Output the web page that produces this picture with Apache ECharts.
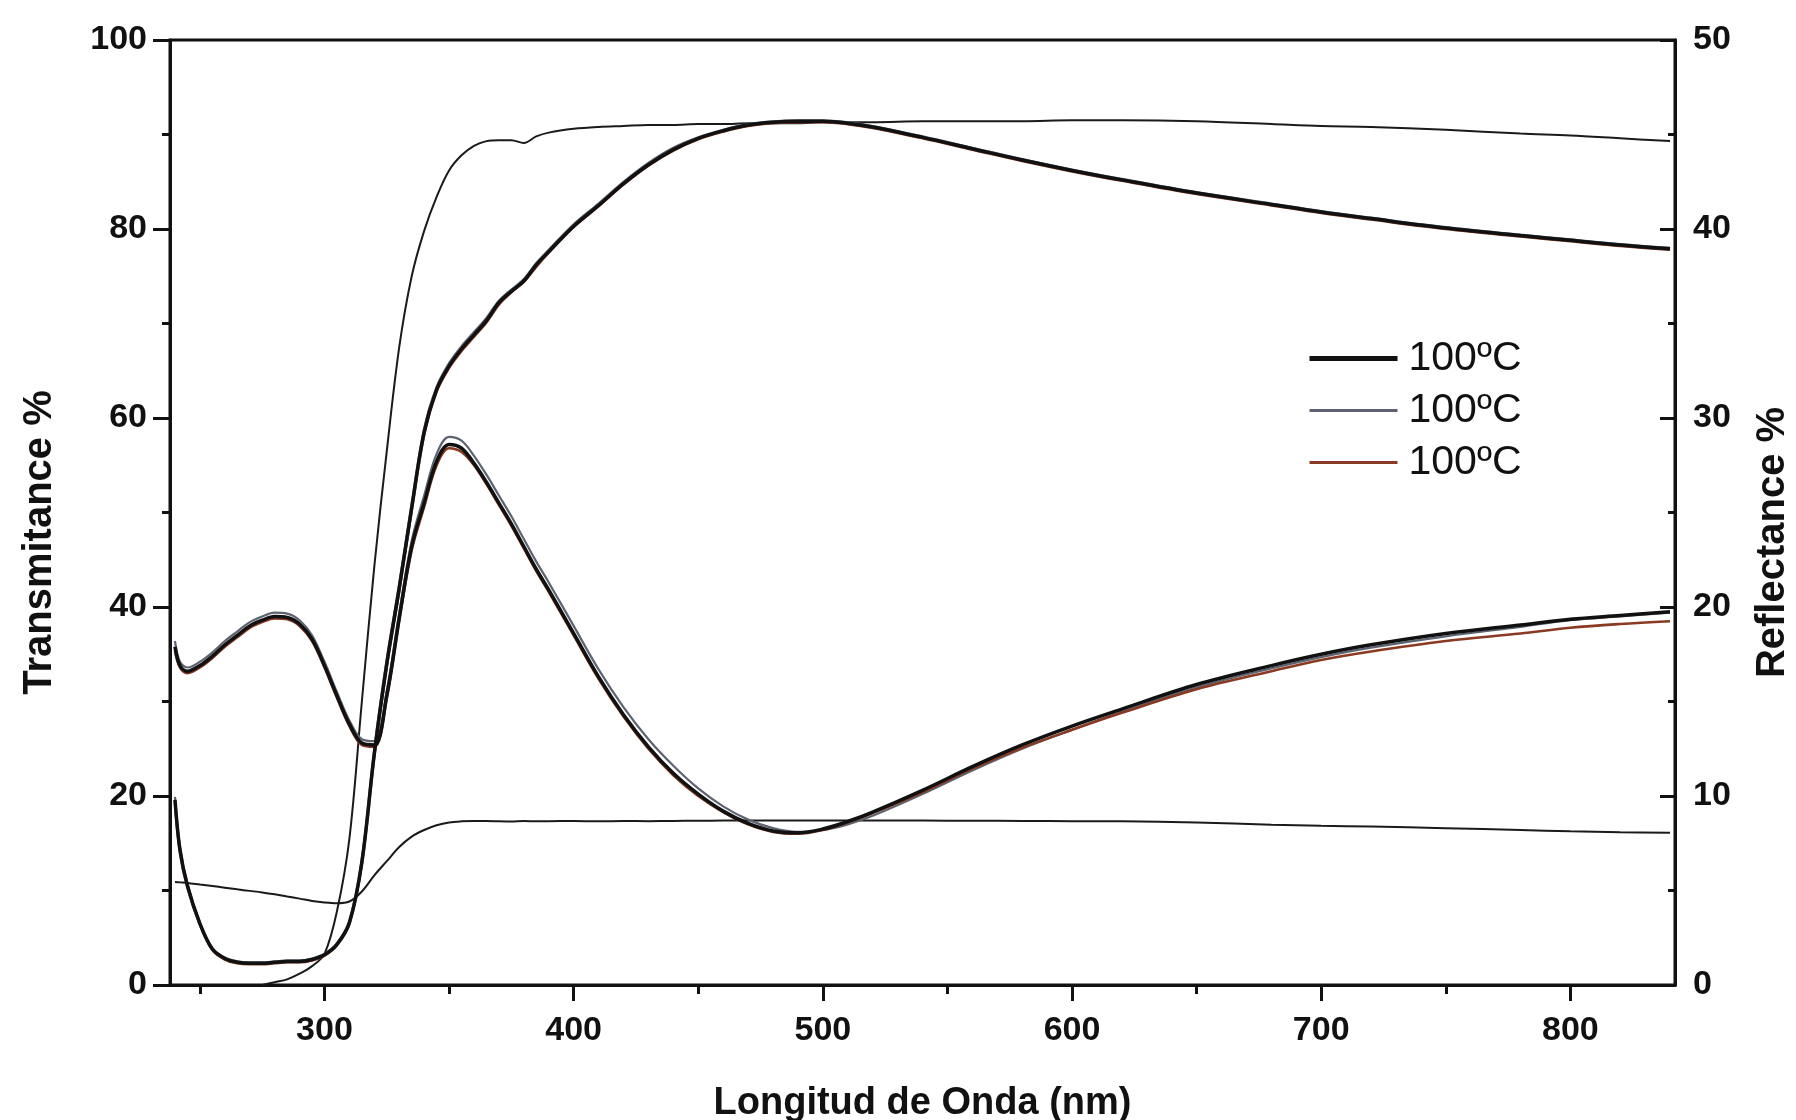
<!DOCTYPE html>
<html>
<head>
<meta charset="utf-8">
<title>Transmitance / Reflectance</title>
<script src="https://cdn.jsdelivr.net/npm/echarts@6/dist/echarts.min.js"></script>
<style>
  html, body { margin: 0; padding: 0; background: #fff; }
  #chart { width: 1796px; height: 1120px; }
</style>
</head>
<body>
<div id="chart"></div>
<script>
// longitud de onda (nm)
const lambda = [240, 242, 245, 250, 255, 260, 265, 270, 275, 280, 285, 290, 295, 300, 305, 310, 315, 320, 325, 330,
  335, 340, 345, 350, 355, 360, 365, 370, 375, 380, 385, 390, 400, 410, 420, 430, 440, 450, 460, 470,
  480, 490, 500, 510, 520, 540, 560, 580, 600, 620, 650, 680, 700, 720, 750, 780, 800, 820, 840];

// transmitancia de la pelicula (eje izq.)
const filmT_black = [19.6, 14.3, 10.5, 6.5, 3.8, 2.8, 2.4, 2.3, 2.3, 2.4, 2.5, 2.5, 2.7, 3.2, 4.3, 6.6, 13.0, 24.5, 34.0, 42.0,
  50.5, 58.5, 63.0, 65.5, 67.3, 68.8, 70.3, 72.2, 73.4, 74.5, 76.2, 77.6, 80.3, 82.5, 84.8, 86.8, 88.4, 89.6, 90.4, 91.0,
  91.3, 91.4, 91.4, 91.2, 90.8, 89.7, 88.5, 87.3, 86.2, 85.2, 83.8, 82.6, 81.8, 81.1, 80.1, 79.3, 78.8, 78.3, 77.9];
const filmT_gray = [19.9, 14.6, 10.7, 6.6, 3.9, 2.9, 2.5, 2.4, 2.4, 2.5, 2.6, 2.6, 2.8, 3.3, 4.4, 6.8, 13.4, 25.0, 34.5, 42.5,
  51.0, 58.9, 63.3, 65.8, 67.6, 69.1, 70.6, 72.4, 73.6, 74.7, 76.4, 77.8, 80.5, 82.7, 85.0, 87.0, 88.6, 89.7, 90.5, 91.1,
  91.4, 91.5, 91.5, 91.3, 90.9, 89.8, 88.6, 87.4, 86.3, 85.3, 83.9, 82.7, 81.9, 81.2, 80.2, 79.4, 78.9, 78.4, 78.0];
const filmT_brown = [19.3, 14.0, 10.3, 6.4, 3.7, 2.7, 2.3, 2.2, 2.2, 2.3, 2.4, 2.4, 2.6, 3.1, 4.2, 6.5, 12.8, 24.2, 33.7, 41.7,
  50.2, 58.2, 62.8, 65.3, 67.1, 68.6, 70.1, 72.0, 73.3, 74.4, 76.0, 77.5, 80.2, 82.4, 84.7, 86.7, 88.3, 89.5, 90.3, 90.9,
  91.2, 91.3, 91.3, 91.1, 90.7, 89.6, 88.4, 87.2, 86.1, 85.1, 83.7, 82.5, 81.7, 81.0, 80.0, 79.2, 78.7, 78.2, 77.8];

// transmitancia del sustrato (eje izq.)
const glassT = [null, null, null, null, null, null, null, null, 0.0, 0.3, 0.6, 1.2, 2.0, 3.3, 7.8, 15.5, 30.0, 44.3, 56.5, 67.5,
  75.0, 79.8, 83.4, 86.2, 87.8, 88.8, 89.3, 89.4, 89.4, 89.1, 89.8, 90.2, 90.6, 90.8, 90.9, 91.0, 91.0, 91.1, 91.1, 91.2,
  91.2, 91.2, 91.3, 91.3, 91.3, 91.4, 91.4, 91.4, 91.5, 91.5, 91.4, 91.1, 90.9, 90.8, 90.5, 90.1, 89.9, 89.6, 89.3];

// reflectancia de la pelicula (eje der.)
const filmR_black = [17.9, 16.9, 16.6, 16.9, 17.4, 18.0, 18.5, 19.0, 19.3, 19.5, 19.45, 19.1, 18.3, 16.9, 15.3, 13.8, 12.8, 12.7, 15.3, 19.4,
  23.2, 25.5, 27.7, 28.6, 28.4, 27.6, 26.6, 25.5, 24.4, 23.2, 22.0, 20.9, 18.6, 16.3, 14.3, 12.6, 11.2, 10.1, 9.2, 8.55,
  8.15, 8.05, 8.25, 8.65, 9.15, 10.3, 11.55, 12.7, 13.7, 14.6, 15.9, 16.9, 17.5, 18.0, 18.6, 19.05, 19.35, 19.55, 19.75];
const filmR_gray = [18.2, 17.1, 16.8, 17.1, 17.6, 18.2, 18.7, 19.2, 19.5, 19.7, 19.65, 19.3, 18.5, 17.1, 15.5, 14.0, 13.0, 12.9, 15.6, 19.7,
  23.5, 25.9, 28.1, 29.0, 28.8, 28.0, 27.0, 25.9, 24.8, 23.6, 22.4, 21.3, 19.0, 16.7, 14.7, 13.0, 11.6, 10.4, 9.45, 8.75,
  8.3, 8.1, 8.2, 8.5, 8.95, 10.1, 11.35, 12.5, 13.5, 14.45, 15.75, 16.75, 17.35, 17.85, 18.45, 18.95, 19.3, 19.5, 19.7];
const filmR_brown = [17.7, 16.8, 16.5, 16.8, 17.3, 17.9, 18.4, 18.9, 19.2, 19.4, 19.35, 19.0, 18.2, 16.8, 15.2, 13.7, 12.7, 12.6, 15.2, 19.3,
  23.0, 25.3, 27.5, 28.4, 28.2, 27.5, 26.5, 25.4, 24.3, 23.1, 21.9, 20.8, 18.5, 16.2, 14.2, 12.5, 11.1, 10.0, 9.15, 8.5,
  8.1, 8.0, 8.2, 8.6, 9.1, 10.2, 11.45, 12.55, 13.5, 14.4, 15.65, 16.6, 17.2, 17.65, 18.2, 18.6, 18.9, 19.1, 19.25];

// reflectancia del sustrato (eje der.)
const glassR = [5.45, 5.43, 5.4, 5.32, 5.24, 5.15, 5.06, 4.98, 4.9, 4.8, 4.68, 4.57, 4.45, 4.37, 4.33, 4.42, 4.95, 5.8, 6.55, 7.3,
  7.85, 8.2, 8.45, 8.6, 8.66, 8.68, 8.68, 8.66, 8.65, 8.68, 8.66, 8.67, 8.68, 8.66, 8.68, 8.67, 8.68, 8.69, 8.7, 8.7,
  8.71, 8.7, 8.71, 8.71, 8.7, 8.7, 8.69, 8.68, 8.67, 8.66, 8.6, 8.48, 8.42, 8.38, 8.3, 8.2, 8.13, 8.08, 8.05];

// ticks
const xLabels = [300, 400, 500, 600, 700, 800];
const xMinor = [250, 350, 450, 550, 650, 750];
const legendNames = ['100ºC', '100ºC ', '100ºC  '];

const FONT = '"Liberation Sans", Arial, Helvetica, sans-serif';
const INK = '#111111';

function pairs(ys) {
  return lambda.map((x, i) => [x, ys[i]]);
}

const chart = echarts.init(document.getElementById('chart'), null, { renderer: 'canvas' });

const tickLabel = { color: INK, fontFamily: FONT, fontWeight: 'bold', fontSize: 34 };
const axisTitle = { color: INK, fontFamily: FONT, fontWeight: 'bold', fontSize: 40 };

function filmSeries(name, ys, yIdx, color, width, z) {
  return {
    name: name,
    type: 'line',
    xAxisIndex: 0,
    yAxisIndex: yIdx,
    data: pairs(ys),
    symbol: 'none',
    smooth: 0.35,
    color: color,
    lineStyle: { color: color, width: width },
    z: z,
    silent: true
  };
}

const option = {
  animation: false,
  backgroundColor: '#ffffff',
  grid: {
    left: 170, right: 121, top: 40, bottom: 135,
    containLabel: false,
    outerBoundsMode: 'none',
    show: true,
    borderColor: INK,
    borderWidth: 3,
    backgroundColor: 'transparent'
  },
  legend: {
    data: [
      { name: legendNames[0], lineStyle: { width: 5 } },
      { name: legendNames[1], lineStyle: { width: 3 } },
      { name: legendNames[2], lineStyle: { width: 3 } }
    ],
    orient: 'vertical',
    left: 1302,
    top: 333,
    itemWidth: 88,
    itemHeight: 14,
    itemGap: 11,
    itemStyle: { opacity: 0, borderWidth: 0 },
    formatter: n => n.trim(),
    textStyle: { color: INK, fontFamily: FONT, fontSize: 41, lineHeight: 40, padding: [0, 0, 0, 6] },
    selectedMode: false
  },
  xAxis: [
    {
      type: 'value',
      min: 238,
      max: 842,
      name: 'Longitud de Onda (nm)',
      nameLocation: 'middle',
      nameGap: 100,
      nameTextStyle: Object.assign({}, axisTitle, { fontSize: 38 }),
      axisLine: { show: true, lineStyle: { color: INK, width: 3 } },
      axisTick: { show: true, customValues: xLabels, length: 16, lineStyle: { color: INK, width: 3 } },
      axisLabel: Object.assign({ customValues: xLabels, margin: 29 }, tickLabel),
      splitLine: { show: false }
    },
    {
      type: 'value',
      min: 238,
      max: 842,
      position: 'bottom',
      axisLine: { show: false },
      axisTick: { show: true, customValues: xMinor, length: 9, lineStyle: { color: INK, width: 3 } },
      axisLabel: { show: false },
      splitLine: { show: false }
    }
  ],
  yAxis: [
    {
      type: 'value',
      position: 'left',
      min: 0,
      max: 100,
      interval: 20,
      name: 'Transmitance %',
      nameLocation: 'middle',
      nameRotate: 90,
      nameGap: 110,
      nameTextStyle: Object.assign({ padding: [0, 60, 0, 0] }, axisTitle),
      axisLine: { show: true, lineStyle: { color: INK, width: 3 } },
      axisTick: { show: true, length: 17, lineStyle: { color: INK, width: 3 } },
      minorTick: { show: true, splitNumber: 2, length: 8, lineStyle: { color: INK, width: 3 } },
      axisLabel: Object.assign({ margin: 23 }, tickLabel),
      splitLine: { show: false }
    },
    {
      type: 'value',
      position: 'right',
      min: 0,
      max: 50,
      interval: 10,
      name: 'Reflectance %',
      nameLocation: 'middle',
      nameRotate: 90,
      nameGap: 78,
      nameTextStyle: Object.assign({ padding: [0, 60, 0, 0] }, axisTitle),
      axisLine: { show: true, lineStyle: { color: INK, width: 3 } },
      axisTick: { show: true, inside: true, length: 15, lineStyle: { color: INK, width: 3 } },
      minorTick: { show: true, splitNumber: 2, length: 7, lineStyle: { color: INK, width: 3 } },
      axisLabel: Object.assign({ margin: 18 }, tickLabel),
      splitLine: { show: false }
    }
  ],
  series: [
    // sustrato
    {
      name: 'glassT', type: 'line', xAxisIndex: 0, yAxisIndex: 0, data: pairs(glassT),
      symbol: 'none', smooth: 0.35, color: INK, lineStyle: { color: '#1a1a1a', width: 2 }, z: 2, silent: true
    },
    {
      name: 'glassR', type: 'line', xAxisIndex: 0, yAxisIndex: 1, data: pairs(glassR),
      symbol: 'none', smooth: 0.35, color: INK, lineStyle: { color: '#1a1a1a', width: 2 }, z: 2, silent: true
    },
    // pelicula: T
    filmSeries(legendNames[0], filmT_black, 0, '#111111', 3.5, 5),
    filmSeries(legendNames[1], filmT_gray, 0, '#5d6370', 2.2, 3),
    filmSeries(legendNames[2], filmT_brown, 0, '#8a3a22', 2.6, 4),
    // pelicula: R
    filmSeries(legendNames[0], filmR_black, 1, '#111111', 3.5, 5),
    filmSeries(legendNames[1], filmR_gray, 1, '#5d6370', 2.2, 3),
    filmSeries(legendNames[2], filmR_brown, 1, '#8a3a22', 2.6, 4)
  ]
};

chart.setOption(option);
</script>
</body>
</html>
